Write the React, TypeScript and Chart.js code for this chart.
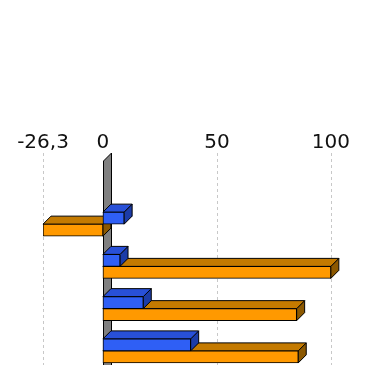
import React, { useEffect, useRef } from "react";
import { Chart, registerables } from "chart.js";

Chart.register(...registerables);

const categories = ["1", "2", "3", "4"];
const seriesBlue = [9.3, 7.5, 17.7, 38.5];
const seriesOrange = [-26.3, 100, 85, 85.7];
const xTicks = [-26.3, 0, 50, 100];
const xMin = -26.3;
const xMax = 140;

const DX = 8;
const DY = 8;
const EXTRA_TOP = 42;

const faceColors: Record<number, { top: string; side: string }> = {
  0: { top: "#2850d8", side: "#1c3ca8" },
  1: { top: "#c47a00", side: "#8c5800" },
};

function poly(ctx: CanvasRenderingContext2D, pts: number[][], fill: string) {
  ctx.beginPath();
  ctx.moveTo(pts[0][0], pts[0][1]);
  for (let i = 1; i < pts.length; i++) ctx.lineTo(pts[i][0], pts[i][1]);
  ctx.closePath();
  ctx.fillStyle = fill;
  ctx.fill();
  ctx.strokeStyle = "#000";
  ctx.lineWidth = 1;
  ctx.stroke();
}

const threeD = {
  id: "threeD",
  beforeDatasetsDraw(chart: any) {
    const ctx: CanvasRenderingContext2D = chart.ctx;
    const area = chart.chartArea;
    const xs = chart.scales.x;
    const frontTop = area.top - EXTRA_TOP;
    const bottom = chart.height;
    ctx.save();
    // gridlines
    ctx.strokeStyle = "#c8c8c8";
    ctx.lineWidth = 1;
    ctx.setLineDash([3, 3]);
    for (const v of xTicks) {
      if (v === 0) continue;
      const x = Math.round(xs.getPixelForValue(v)) + 0.5;
      ctx.beginPath();
      ctx.moveTo(x, frontTop - DY);
      ctx.lineTo(x, bottom);
      ctx.stroke();
    }
    ctx.setLineDash([]);
    // wall at zero
    const x0 = Math.round(xs.getPixelForValue(0)) + 0.5;
    poly(
      ctx,
      [
        [x0, frontTop],
        [x0 + DX, frontTop - DY],
        [x0 + DX, bottom + 2],
        [x0, bottom + 2],
      ],
      "#808080"
    );
    // 3D faces, lower dataset first
    for (let d = chart.data.datasets.length - 1; d >= 0; d--) {
      const meta = chart.getDatasetMeta(d);
      const fc = faceColors[d];
      meta.data.forEach((el: any) => {
        const p = el.getProps(["x", "y", "base", "height"], true);
        const xl = Math.min(p.x, p.base);
        const xr = Math.max(p.x, p.base);
        const yt = p.y - p.height / 2;
        const yb = p.y + p.height / 2;
        poly(
          ctx,
          [
            [xr, yt],
            [xr + DX, yt - DY],
            [xr + DX, yb - DY],
            [xr, yb],
          ],
          fc.side
        );
        poly(
          ctx,
          [
            [xl, yt],
            [xr, yt],
            [xr + DX, yt - DY],
            [xl + DX, yt - DY],
          ],
          fc.top
        );
      });
    }
    ctx.restore();
  },
};

const whiteBg = {
  id: "whiteBg",
  beforeDraw(chart: any) {
    const ctx = chart.ctx;
    ctx.save();
    ctx.fillStyle = "#ffffff";
    ctx.fillRect(0, 0, chart.width, chart.height);
    ctx.restore();
  },
};

export default function App() {
  const ref = useRef<HTMLCanvasElement | null>(null);
  useEffect(() => {
    if (!ref.current) return;
    const chart = new Chart(ref.current, {
      type: "bar",
      data: {
        labels: categories,
        datasets: [
          {
            label: "A",
            data: seriesBlue,
            backgroundColor: "#2f5ff5",
            borderColor: "#000",
            borderWidth: 1,
            borderSkipped: false,
            barThickness: 12,
          },
          {
            label: "B",
            data: seriesOrange,
            backgroundColor: "#ff9900",
            borderColor: "#000",
            borderWidth: 1,
            borderSkipped: false,
            barThickness: 12,
          },
        ],
      },
      options: {
        indexAxis: "y",
        animation: false,
        responsive: false,
        devicePixelRatio: 1,
        layout: { padding: { left: 43, right: 18, top: 131, bottom: 28 } },
        plugins: { legend: { display: false }, tooltip: { enabled: false } },
        scales: {
          x: {
            type: "linear",
            position: "top",
            min: xMin,
            max: xMax,
            grid: { display: false, drawTicks: false },
            border: { display: false },
            afterBuildTicks: (s: any) => {
              s.ticks = xTicks.map((v) => ({ value: v }));
            },
            afterFit: (s: any) => {
              s.height = 72;
              s.paddingLeft = 0;
              s.paddingRight = 0;
              s.paddingTop = 0;
              s.paddingBottom = 0;
            },
            ticks: {
              padding: 48,
              autoSkip: false,
              maxRotation: 0,
              color: "#111",
              font: { family: "DejaVu Sans", size: 20 },
              callback: (v: any) => String(v).replace(".", ","),
            },
          },
          y: {
            type: "category",
            display: false,
            offset: true,
          },
        },
      },
      plugins: [whiteBg, threeD],
    });
    return () => chart.destroy();
  }, []);
  return (
    <div
      style={{
        position: "fixed",
        left: 0,
        top: 0,
        width: 384,
        height: 365,
        overflow: "hidden",
        background: "#fff",
      }}
    >
      <canvas ref={ref} width={440} height={400} style={{ display: "block" }} />
    </div>
  );
}
